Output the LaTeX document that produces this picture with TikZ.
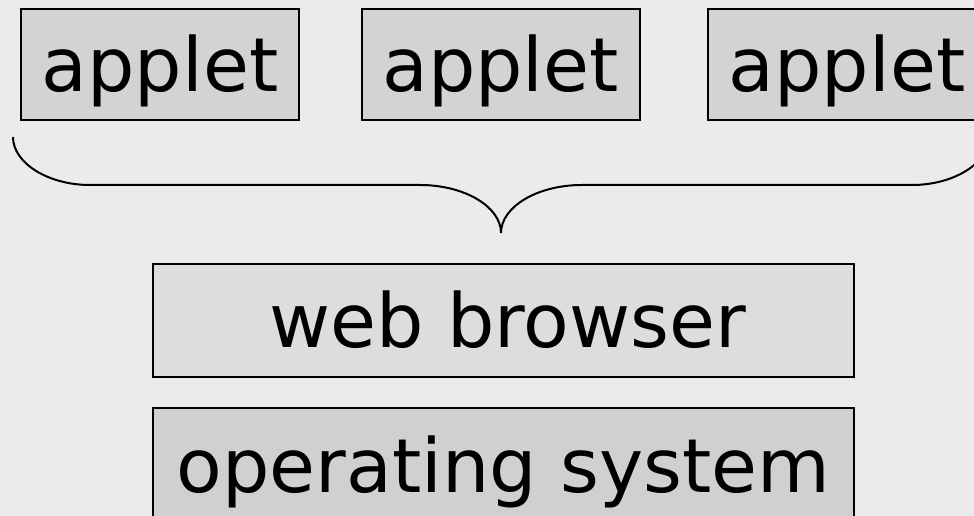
\documentclass[tikz,border=0pt]{standalone}
\usepackage{fontspec}
\setmainfont{DejaVu Sans}
\usepackage{xcolor}
\usepackage{tikz}
\usetikzlibrary{
	calc,
	positioning
}
\definecolor{bggray}{RGB}{235,235,235}
\definecolor{appletgray}{RGB}{211,211,211}
\definecolor{browsergray}{RGB}{221,221,221}
\definecolor{osgray}{RGB}{208,208,208}

\begin{document}
\begin{tikzpicture}[x=0.75pt, y=-0.75pt,
		layer/.style={draw=black, line width=1.5pt, inner sep=0pt,
			font=\fontsize{56pt}{67pt}\selectfont,
			text height=41.25pt, text depth=0pt},
		applet/.style={layer, fill=appletgray, minimum width=208.5pt, minimum height=83.25pt},
		wide/.style={layer, minimum width=525.75pt, minimum height=84.75pt}]
		\useasboundingbox (0,0) rectangle (974,516);
		\fill[bggray] (0,0) rectangle (974,516);
		\clip (0,0) rectangle (974,516);
		\node[applet] (A1) at (160,64.5) {applet};
		\node[applet] (A2) at (500.5,64.5) {applet};
		\node[applet] (A3) at (847,64.5) {applet};
		\node[wide, fill=browsergray] (W) at (503.5,320.5) {\hspace{6pt}web browser};
		\node[wide, fill=osgray] (O) at (503.5,464.5) {operating system};
		\coordinate (L) at (13,137);
		\coordinate (T) at (501,233);
		\coordinate (R) at (989,137);
		\draw[line width=1.5pt] (L) .. controls (13,163) and (48,185) .. (90,185)
			-- (420,185) .. controls (465,185) and (501,207) .. (T)
			.. controls (501,207) and (537,185) .. (582,185)
			-- (912,185) .. controls (954,185) and (989,163) .. (R);
	\end{tikzpicture}
\end{document}
